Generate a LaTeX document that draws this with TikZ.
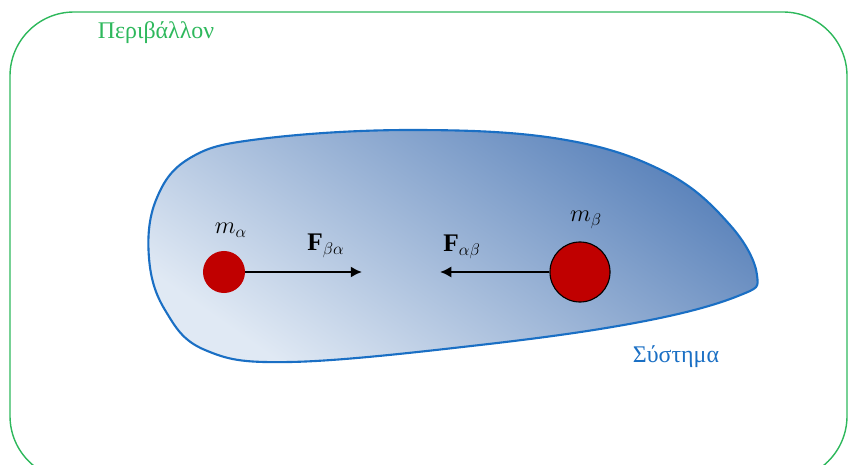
\documentclass[tikz,border=0pt]{standalone}
\usepackage{fontspec}
\setmainfont{Liberation Serif}
\usepackage{tikz}
\usetikzlibrary{arrows.meta}
\definecolor{envgreen}{HTML}{2EB85C}
\definecolor{sysblue}{HTML}{1A6FC4}
\definecolor{sysdark}{HTML}{5A82BA}
\definecolor{syslight}{HTML}{E0E9F4}
\definecolor{massred}{HTML}{C00000}
\tikzstyle{force}=[black, line width=1.8pt, -{Latex[length=8pt,width=8pt]}]
\tikzstyle{mass}=[circle, fill=massred, inner sep=0pt]
\tikzstyle{lbl}=[font=\fontsize{18}{21}\selectfont]

\begin{document}
\begin{tikzpicture}[x=0.025cm, y=-0.025cm]
				\useasboundingbox (0,0) rectangle (848,465);
				\clip (0,0) rectangle (848,465);
				\draw[envgreen, line width=1pt, rounded corners=1.6cm] (10,12) rectangle (847,480);
				\node[envgreen, font=\fontsize{17}{20}\selectfont] (env) at (156,33) {Περιβάλλον};
				\shade[top color=sysdark, bottom color=syslight, shading angle=-35] plot[smooth cycle, tension=0.65] coordinates {(149,258) (156,200) (190,158) (260,139) (410,130) (560,139) (665,172) (730,225) (757,275) (738,296) (640,322) (480,345) (290,362) (205,350) (165,310)};
				\draw[sysblue, line width=1.5pt] plot[smooth cycle, tension=0.65] coordinates {(149,258) (156,200) (190,158) (260,139) (410,130) (560,139) (665,172) (730,225) (757,275) (738,296) (640,322) (480,345) (290,362) (205,350) (165,310)};
				\node[sysblue, font=\fontsize{17}{20}\selectfont] (sys) at (676,357) {Σύστημα};
				\node[mass, minimum size=1.05cm] (ma) at (224,272) {};
				\node[mass, draw=black, line width=0.8pt, minimum size=1.5cm] (mb) at (580,272) {};
				\node[lbl] (ma label) at (231,230) {$m_\alpha$};
				\node[lbl] (mb label) at (586,220) {$m_\beta$};
				\coordinate (fa) at (362,272);
				\coordinate (fb) at (440,272);
				\draw[force] (ma) -- (fa);
				\draw[force] (mb) -- (fb);
				\node[lbl] (fa label) at (326,246) {$\mathbf{F}_{\beta\alpha}$};
				\node[lbl] (fb label) at (462,247) {$\mathbf{F}_{\alpha\beta}$};
			\end{tikzpicture}
\end{document}
